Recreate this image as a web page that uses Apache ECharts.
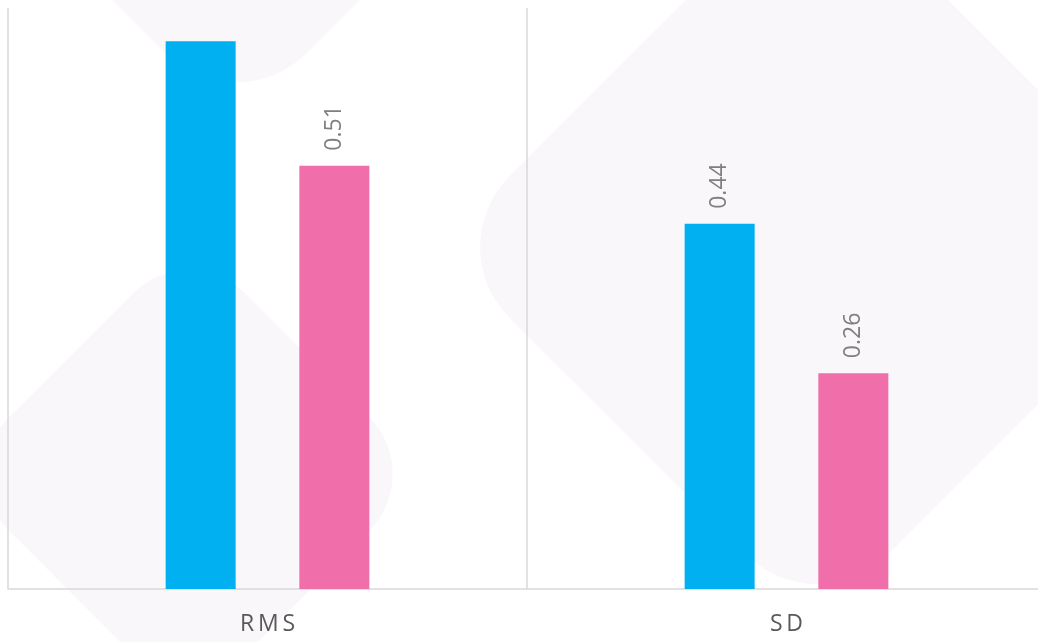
<!DOCTYPE html>
<html>
<head>
<meta charset="utf-8">
<script src="https://cdn.jsdelivr.net/npm/echarts@6/dist/echarts.min.js"></script>
<style>
html,body{margin:0;padding:0;background:#fff;overflow:hidden;width:1038px;height:642px;}
#chart{width:1046px;height:642px;}
</style>
</head>
<body>
<div id="chart"></div>
<script>
var categories = ['RMS', 'SD'];
var seriesAValues = [0.66, 0.44];
var seriesBValues = [0.51, 0.26];
var seriesALabelShown = [false, true];
var seriesBLabelShown = [true, true];

var chart = echarts.init(document.getElementById('chart'), null, {renderer: 'canvas'});
var wm = '#f9f7fa';
function diamond(cx, cy, w, h, r) {
  return {
    type: 'rect', x: cx, y: cy, rotation: Math.PI / 4, z: -10, silent: true,
    shape: {x: -w / 2, y: -h / 2, width: w, height: h, r: r},
    style: {fill: wm}
  };
}
function mk(vals, shown) {
  return vals.map(function (v, i) { return {value: v, label: {show: shown[i]}}; });
}
var labelStyle = {
  show: true, position: 'top', rotate: 90, align: 'left', verticalAlign: 'middle',
  distance: 15, color: '#7f7f7f', fontSize: 23, fontFamily: 'Open Sans',
  formatter: function (p) { return p.value.toFixed(2); }
};
chart.setOption({
  backgroundColor: '#ffffff',
  animation: false,
  graphic: [
    diamond(817, 247, 535, 535, 100),
    diamond(189, 474, 335, 335, 80),
    diamond(236, -113, 335, 335, 100)
  ],
  grid: {left: 8, top: 8, right: 0, height: 581, containLabel: false},
  xAxis: {
    type: 'category', data: categories, boundaryGap: true,
    axisLine: {show: true, lineStyle: {color: '#d9d9d9', width: 1.5}},
    axisTick: {show: false},
    splitLine: {show: true, lineStyle: {color: '#d9d9d9', width: 1.5}},
    axisLabel: {
      color: '#595959', fontSize: 23, fontFamily: 'Open Sans', margin: 24,
      formatter: function (v) { return v.split('').join('\u2009'); }
    }
  },
  yAxis: {type: 'value', min: 0, max: 0.7, show: false, splitLine: {show: false}},
  series: [
    {type: 'bar', data: mk(seriesAValues, seriesALabelShown), barWidth: 70, barGap: '91%',
     itemStyle: {color: '#00b0f0'}, label: labelStyle},
    {type: 'bar', data: mk(seriesBValues, seriesBLabelShown), barWidth: 70, barGap: '91%',
     itemStyle: {color: '#f06eaa'}, label: labelStyle}
  ]
});
</script>
</body>
</html>
